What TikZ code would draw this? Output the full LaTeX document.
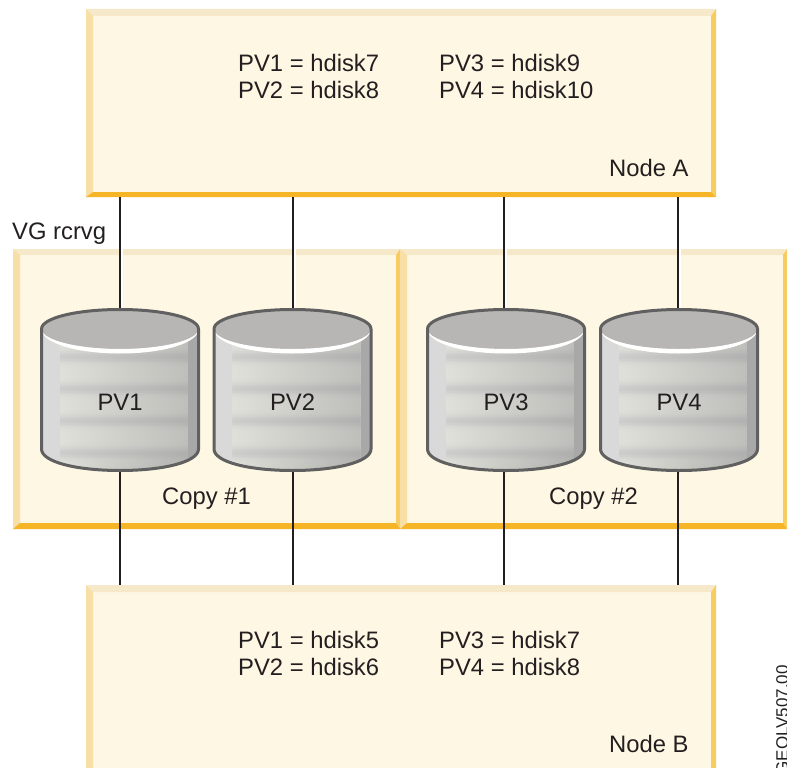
\documentclass[tikz,border=0pt]{standalone}
\usepackage{fontspec}
\setmainfont{Liberation Sans}
\definecolor{bTop}{HTML}{F6E9C9}
\definecolor{bLeft}{HTML}{F7DFA6}
\definecolor{bRight}{HTML}{F8CC60}
\definecolor{bBottom}{HTML}{F6B427}
\definecolor{bFill}{HTML}{FEF7E4}
\definecolor{inkText}{HTML}{231F20}
\definecolor{diskEdge}{HTML}{5F605F}
\definecolor{diskTop}{HTML}{B7B6B4}
\definecolor{midLight}{HTML}{E0E0DA}
\definecolor{midLightR}{HTML}{BEBEBA}
\definecolor{midDark}{HTML}{C4C4C4}
\definecolor{midDarkR}{HTML}{ABABAD}
\tikzset{
  x=1pt,y=-1pt,
  label text/.style={text=inkText,font=\fontsize{23.8}{27}\selectfont,inner sep=0pt,anchor=base west},
  disk text/.style={text=inkText,font=\fontsize{23.8}{27}\selectfont,inner sep=0pt},
  link/.style={draw=inkText,line width=2pt},
  halo/.style={draw=white,line width=4.5pt},
  panel/.style={fill=bFill,draw=none,inner sep=0pt,outer sep=0pt},
  diskframe/.style={draw=none,fill=none,inner sep=0pt,outer sep=0pt,minimum width=160pt,minimum height=164pt}
}
% name, x1,y1,x2,y2, bevel left, top, right, bottom
\newcommand{\bevelpanel}[9]{%
  \pgfmathsetmacro{\pw}{#4-#2}\pgfmathsetmacro{\ph}{#5-#3}%
  \pgfmathsetmacro{\pcx}{(#2+#4)/2}\pgfmathsetmacro{\pcy}{(#3+#5)/2}%
  \node[panel,minimum width=\pw pt,minimum height=\ph pt] (#1) at (\pcx,\pcy) {};
  \fill[bTop] (#2,#3) -- (#4,#3) -- ({#4-#8},{#3+#7}) -- ({#2+#6},{#3+#7}) -- cycle;
  \fill[bLeft] (#2,#3) -- ({#2+#6},{#3+#7}) -- ({#2+#6},{#5-#9}) -- (#2,#5) -- cycle;
  \fill[bRight] (#4,#3) -- ({#4-#8},{#3+#7}) -- ({#4-#8},{#5-#9}) -- (#4,#5) -- cycle;
  \fill[bBottom] (#2,#5) -- ({#2+#6},{#5-#9}) -- ({#4-#8},{#5-#9}) -- (#4,#5) -- cycle;
}
% name, centre x, label, connector x
\newcommand{\diskunit}[4]{%
  \begin{scope}[shift={(#2,0)}]
    \begin{scope}
      \clip (-78.5,329) -- (-78.5,449) .. controls (-78.5,462) and (-43.4,470.5) .. (0,470.5)
        .. controls (43.4,470.5) and (78.5,462) .. (78.5,449) -- (78.5,329) -- cycle;
      \fill[black!15] (-80,325) rectangle (-60,475);
      \foreach \yy in {329,331,...,473}{
        \pgfmathsetmacro{\dk}{70*(0.5+0.5*cos(11.25*(\yy-388)))^3}
        \pgfmathsetmacro{\lk}{100-(\yy>449?(\yy-449)*1.5:0)}
        \colorlet{cA}{midDark!\dk!midLight}
        \colorlet{cB}{midDarkR!\dk!midLightR}
        \shade[left color=cA,right color=cB!\lk!gray] (-60,\yy) rectangle (68,\yy+2.6);
      }
      \fill[black!34] (68,325) rectangle (80,475);
    \end{scope}
    \fill[diskTop] (-78.5,329) .. controls (-78.5,318) and (-43.4,309.5) .. (0,309.5)
       .. controls (43.4,309.5) and (78.5,318) .. (78.5,329)
       .. controls (78.5,340) and (43.4,349) .. (0,349)
       .. controls (-43.4,349) and (-78.5,340) .. (-78.5,329) -- cycle;
    \fill[white] (-78.5,329) .. controls (-78.5,340) and (-43.4,349) .. (0,349)
       .. controls (43.4,349) and (78.5,340) .. (78.5,329)
       .. controls (78.5,343) and (43.4,353.5) .. (0,353.5)
       .. controls (-43.4,353.5) and (-78.5,343) .. (-78.5,329) -- cycle;
    \draw[diskEdge,line width=3pt,line join=round] (-78.5,329) .. controls (-78.5,318) and (-43.4,309.5) .. (0,309.5)
       .. controls (43.4,309.5) and (78.5,318) .. (78.5,329) -- (78.5,449)
       .. controls (78.5,462) and (43.4,470.5) .. (0,470.5)
       .. controls (-43.4,470.5) and (-78.5,462) .. (-78.5,449) -- cycle;
  \end{scope}
  \node[diskframe] (#1) at (#4,390) {};
  \node[disk text,anchor=base] (#1label) at (#2,410) {#3};
}
\begin{document}
\begin{tikzpicture}
\useasboundingbox (0,0) rectangle (787,768);
\clip (0,0) rectangle (787,768);
\fill[white] (0,0) rectangle (787,768);

\bevelpanel{nodeA}{86}{9}{716}{197}{7}{7}{5}{5}
\bevelpanel{nodeB}{86}{585}{716}{800}{7}{7}{5}{5}
\bevelpanel{copyone}{13}{249}{400}{529}{7}{6}{4}{6}
\bevelpanel{copytwo}{400}{249}{787}{529}{7}{6}{4}{6}

\diskunit{pvone}{120}{PV1}{120}
\diskunit{pvtwo}{292.5}{PV2}{293}
\diskunit{pvthree}{506}{PV3}{504}
\diskunit{pvfour}{679}{PV4}{678}

% connectors
\foreach \dsk in {pvone,pvtwo,pvthree,pvfour}{
  \path[halo] ([xshift=0.8pt]\dsk.north |- copyone.north) -- ([xshift=0.8pt]\dsk.north);
  \draw[link] (\dsk.north |- nodeA.south) -- (\dsk.north);
  \draw[link] (\dsk.south) -- (\dsk.south |- nodeB.north);
}

% texts
\node[label text] (a1) at (238,72) {PV1 = hdisk7};
\node[label text] (a2) at (238,99) {PV2 = hdisk8};
\node[label text] (a3) at (439,72) {PV3 = hdisk9};
\node[label text] (a4) at (439,99) {PV4 = hdisk10};
\node[label text] (la) at (609,176) {Node A};
\node[label text] (b1) at (238,648) {PV1 = hdisk5};
\node[label text] (b2) at (238,675) {PV2 = hdisk6};
\node[label text] (b3) at (439,648) {PV3 = hdisk7};
\node[label text] (b4) at (439,675) {PV4 = hdisk8};
\node[label text] (lb) at (609,752) {Node B};
\node[label text] (vg) at (12,239) {VG rcrvg};
\node[label text] (c1) at (162,504) {Copy \#1};
\node[label text] (c2) at (549,504) {Copy \#2};
\node[text=inkText,font=\fontsize{17}{17}\selectfont,inner sep=0pt,anchor=base east,rotate=90] (code) at (788,665) {GEOLV507.00};
\end{tikzpicture}
\end{document}
